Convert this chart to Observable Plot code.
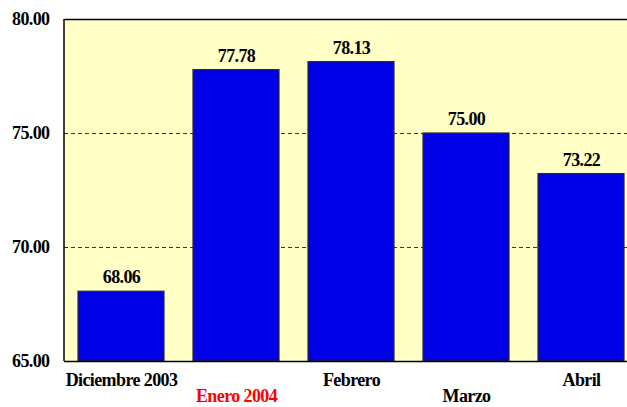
<!DOCTYPE html>
<html>
<head>
<meta charset="utf-8">
<script src="https://cdn.jsdelivr.net/npm/d3@7"></script>
<script src="https://cdn.jsdelivr.net/npm/@observablehq/plot@0.6"></script>
<style>
  html, body { margin: 0; padding: 0; background: #fff; }
  svg text { letter-spacing: -0.6px; }
</style>
</head>
<body>
<div id="chart"></div>
<script>
const categories = ["Diciembre 2003", "Enero 2004", "Febrero", "Marzo", "Abril"];
const values = [68.06, 77.78, 78.13, 75.00, 73.22];
const yTicks = [65, 70, 75, 80];
const gridTicks = [70, 75];

const data = categories.map((c, i) => ({cat: c, value: values[i], i}));
const row1 = data.filter(d => d.i % 2 === 0);
const row2 = data.filter(d => d.i % 2 === 1);

const font = {fontSize: 18, fontWeight: "bold", fontFamily: "Liberation Serif, Times New Roman, serif"};

const leftBorder = (index, scales, values, dims) => {
  const g = d3.create("svg:line")
    .attr("x1", dims.marginLeft).attr("x2", dims.marginLeft)
    .attr("y1", scales.y(65)).attr("y2", scales.y(80))
    .attr("stroke", "#000").attr("stroke-width", 1.5);
  return g.node();
};

const chart = Plot.plot({
  width: 627,
  height: 407,
  marginTop: 19,
  marginBottom: 46,
  marginLeft: 64,
  marginRight: 0,
  style: {background: "#fff", overflow: "visible"},
  x: {domain: categories, range: [64, 639], paddingInner: 0.25, paddingOuter: 0.125, axis: null},
  y: {domain: [65, 80], range: [361, 19], axis: null},
  marks: [
    Plot.frame({fill: "#FFFFC6", stroke: null}),
    Plot.ruleY(gridTicks, {stroke: "#333", strokeDasharray: "4,3", strokeWidth: 1}),
    Plot.barY(data, {x: "cat", y1: 65, y2: "value", fill: "#0000E6", stroke: "#2a2a2a", strokeWidth: 1.2}),
    Plot.ruleY([80, 65], {stroke: "#000", strokeWidth: 1.5}),
    leftBorder,
    Plot.text(data, {x: "cat", y: "value", text: d => d.value.toFixed(2), dy: -14, fill: "#000", ...font}),
    Plot.text(yTicks, {frameAnchor: "left", y: d => d, text: d => d.toFixed(2), textAnchor: "end", dx: -15, fill: "#000", ...font}),
    Plot.text(row1, {x: "cat", y: 65, text: "cat", dy: 19, fill: "#000", ...font}),
    Plot.text(row2, {x: "cat", y: 65, text: "cat", dy: 35, fill: d => d.i === 1 ? "#FF0000" : "#000", ...font})
  ]
});
document.getElementById("chart").appendChild(chart);
</script>
</body>
</html>
